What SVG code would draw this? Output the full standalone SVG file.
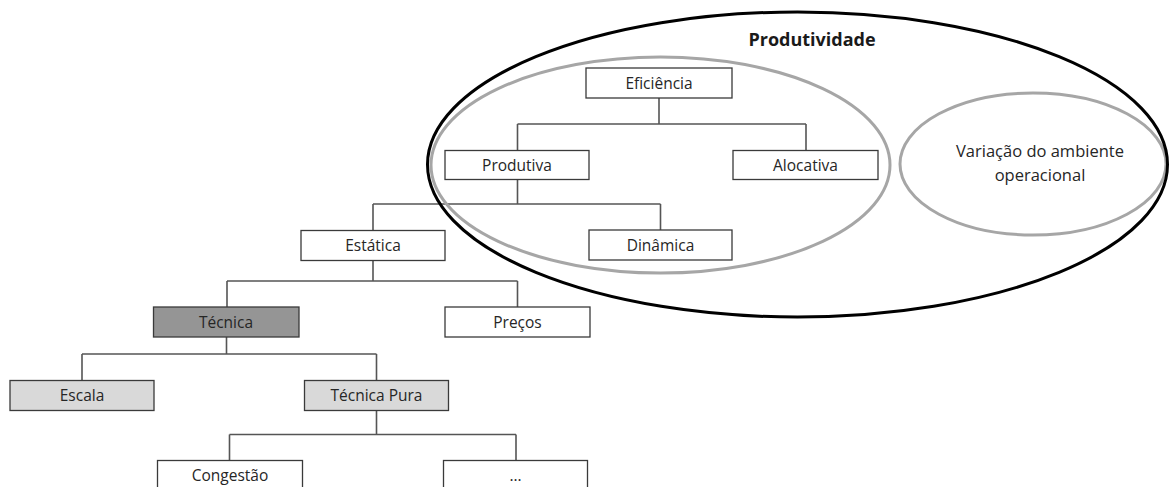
<svg xmlns="http://www.w3.org/2000/svg" width="1169" height="487" viewBox="0 0 1169 487">
<style>
.box{fill:#ffffff;stroke:#3a3a3a;stroke-width:1.3}
.dark{fill:#959595}
.light{fill:#d9d9d9}
.lbl{font-family:"Open Sans","Noto Sans",sans-serif;font-size:15.5px;fill:#262626;text-anchor:middle}
.big{font-size:16.5px}
.conn{fill:none;stroke:#555555;stroke-width:1.6}
.ring{fill:none;stroke:#a6a6a6;stroke-width:3}
.outer{fill:none;stroke:#000000;stroke-width:3}
.title{font-family:"Open Sans","Noto Sans",sans-serif;font-size:18px;font-weight:bold;fill:#1a1a1a;text-anchor:middle}
</style>
<rect width="1169" height="487" fill="#ffffff"/>
<g id="connectors">
<path class="conn" d="M659,98V124M517.5,124H806M517.5,124V150.5M806,124V150.5"/>
<path class="conn" d="M517.5,179.5V204M373,204H660.5M373,204V230.5M660.5,204V230"/>
<path class="conn" d="M373,260.5V281M227,281H517.5M227,281V307M517.5,281V307"/>
<path class="conn" d="M226.5,337V354M82,354H376.5M82,354V380.5M376.5,354V380.5"/>
<path class="conn" d="M376.5,410.5V434.5M229.5,434.5H516M229.5,434.5V460.5M516,434.5V460.5"/>
</g>
<g id="eficiencia"><rect class="box" x="586" y="68" width="146" height="30"/><text class="lbl" x="659" y="88.5">Eficiência</text></g>
<g id="produtiva"><rect class="box" x="445" y="150.5" width="144" height="29"/><text class="lbl" x="517" y="170.5">Produtiva</text></g>
<g id="alocativa"><rect class="box" x="733" y="150.5" width="145" height="29"/><text class="lbl" x="805.5" y="170.5">Alocativa</text></g>
<g id="estatica"><rect class="box" x="301" y="230.5" width="144" height="30"/><text class="lbl" x="373" y="251">Estática</text></g>
<g id="dinamica"><rect class="box" x="589" y="230" width="143" height="30"/><text class="lbl" x="660.5" y="250.5">Dinâmica</text></g>
<g id="tecnica"><rect class="box dark" x="153.5" y="307" width="145.5" height="30"/><text class="lbl" x="226" y="327.5">Técnica</text></g>
<g id="precos"><rect class="box" x="445" y="307" width="145" height="30"/><text class="lbl" x="517.5" y="327.5">Preços</text></g>
<g id="escala"><rect class="box light" x="10" y="380.5" width="144" height="30"/><text class="lbl" x="82" y="401">Escala</text></g>
<g id="tecnica-pura"><rect class="box light" x="304.5" y="380.5" width="144" height="30"/><text class="lbl" x="376.5" y="401">Técnica Pura</text></g>
<g id="congestao"><rect class="box" x="157.5" y="460.5" width="145" height="32"/><text class="lbl" x="230" y="481">Congestão</text></g>
<g id="outros"><rect class="box" x="443.5" y="460.5" width="144" height="32"/><text class="lbl" x="515.5" y="481">...</text></g>
<g id="eficiencia-grupo"><ellipse class="ring" cx="660.5" cy="165" rx="229.5" ry="108"/></g>
<g id="variacao"><ellipse class="ring" cx="1033" cy="164" rx="133" ry="71"/><text class="lbl big" x="1040" y="157">Variação do ambiente</text><text class="lbl big" x="1040" y="181">operacional</text></g>
<g id="produtividade"><ellipse class="outer" cx="797.5" cy="164.5" rx="370" ry="152.5"/><text class="title" x="812" y="46">Produtividade</text></g>
</svg>
